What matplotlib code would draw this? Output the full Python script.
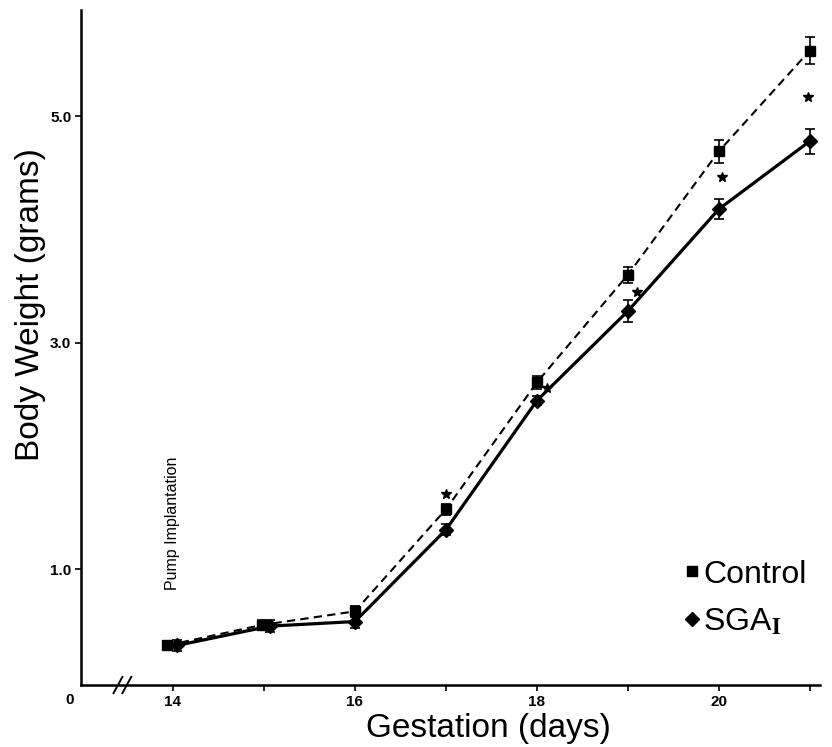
import numpy as np
import matplotlib.pyplot as plt
from matplotlib.lines import Line2D

plt.rcParams['font.family'] = ['Liberation Sans', 'DejaVu Sans']
plt.rcParams['mathtext.fontset'] = 'stix'

# gestation day vs body weight (g)
days_ctrl = [13.94, 14.98, 16, 17, 18, 19, 20, 21]
days_sga = [14.05, 15.07, 16, 17, 18, 19, 20, 21]
ctrl_mean = [0.33, 0.51, 0.63, 1.53, 2.65, 3.60, 4.69, 5.58]
ctrl_err = [0.04, 0.04, 0.05, 0.05, 0.06, 0.07, 0.10, 0.12]
sga_mean = [0.33, 0.50, 0.54, 1.35, 2.49, 3.28, 4.18, 4.78]
sga_err = [0.05, 0.05, 0.06, 0.05, 0.04, 0.10, 0.09, 0.11]

# significance stars
star_x = [17.0, 18.11, 19.10, 20.04, 20.98]
star_y = [1.67, 2.60, 3.45, 4.46, 5.17]

fig = plt.figure(figsize=(8.32, 7.47), dpi=100)
ax = fig.add_axes([0.0974, 0.083, 0.888, 0.904])

ax.errorbar(days_ctrl, ctrl_mean, yerr=ctrl_err, color='black', ls=(0, (4, 2.5)),
            lw=1.5, marker='s', ms=6.5, capsize=3.5, elinewidth=1.2, capthick=1.2)
ax.errorbar(days_sga, sga_mean, yerr=sga_err, color='black', ls='-',
            lw=2.3, marker='D', ms=7, capsize=3.5, elinewidth=1.2, capthick=1.2)
ax.plot(star_x, star_y, ls='none', marker='*', ms=7, color='black')

ax.set_xlim(12.99, 21.11)
ax.set_ylim(-0.02, 5.94)
for s in ['top', 'right']:
    ax.spines[s].set_visible(False)
for s in ['left', 'bottom']:
    ax.spines[s].set_linewidth(1.8)

ax.set_xticks([14, 15, 16, 17, 18, 19, 20, 21])
ax.set_xticklabels(['14', '', '16', '', '18', '', '20', ''], fontsize=11, fontweight='bold')
ax.set_yticks([1.0, 3.0, 5.0])
ax.set_yticklabels(['1.0', '3.0', '5.0'], fontsize=11, fontweight='bold')
ax.tick_params(axis='both', length=4, width=1.2, direction='out', pad=3)

ax.set_xlabel('Gestation (days)', fontsize=24)
ax.xaxis.set_label_coords(0.552, -0.064)
ax.xaxis.label.set_va('center')
ax.set_ylabel('Body Weight (grams)', fontsize=24)
ax.yaxis.set_label_coords(-0.069, 0.563)
ax.yaxis.label.set_va('center')

# origin label and axis break
ax.text(-0.015, -0.022, '0', transform=ax.transAxes, ha='center', va='center',
        fontsize=11, fontweight='bold')
for dx in [0.050, 0.062]:
    ax.plot([dx - 0.006, dx + 0.006], [-0.012, 0.012], transform=ax.transAxes,
            color='black', lw=1.4, clip_on=False)

ax.text(14, 0.82, 'Pump Implantation', rotation=90, ha='center', va='bottom', fontsize=11.5)

handles = [Line2D([], [], ls='none', marker='s', ms=7, color='black'),
           Line2D([], [], ls='none', marker='D', ms=7.5, color='black')]
ax.legend(handles, ['Control', r'SGA$_{\mathbf{I}}$'], loc='center right',
          bbox_to_anchor=(0.982, 0.128), frameon=False, fontsize=23,
          borderpad=0, borderaxespad=0,
          handlelength=0.4, handletextpad=0.15, labelspacing=0.55)

fig.savefig('out.png', dpi=100)
